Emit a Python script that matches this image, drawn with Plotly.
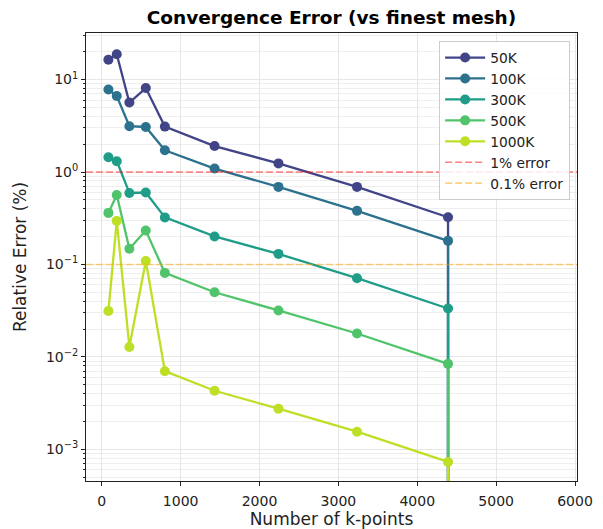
import plotly.graph_objects as go

# ---- data ----
kpoints = [84, 190, 350, 558, 800, 1430, 2240, 3236, 4390, 4390]
series_names = ["50K", "100K", "300K", "500K", "1000K"]
err_50K = [16.4, 18.8, 5.64, 8.1, 3.1, 1.91, 1.24, 0.69, 0.324, 0.0]
err_100K = [7.8, 6.65, 3.13, 3.07, 1.72, 1.09, 0.69, 0.38, 0.18, 0.0]
err_300K = [1.445, 1.31, 0.594, 0.60, 0.323, 0.201, 0.13, 0.071, 0.0334, 0.0]
err_500K = [0.361, 0.565, 0.148, 0.233, 0.081, 0.050, 0.0318, 0.0179, 0.0084, 0.0]
err_1000K = [0.0313, 0.296, 0.0128, 0.109, 0.0070, 0.0043, 0.00275, 0.00155, 0.00073, 0.0]
colors = ["#414487", "#2c718e", "#1f9d89", "#50c46a", "#bddf26"]
thresholds = [1.0, 0.1]
threshold_names = ["1% error", "0.1% error"]
threshold_colors = ["rgba(255,0,0,0.5)", "rgba(255,165,0,0.5)"]
ytick_vals = [1e-3, 1e-2, 1e-1, 1e0, 1e1]
ytick_text = ["10<sup>\u22123</sup>", "10<sup>\u22122</sup>", "10<sup>\u22121</sup>",
              "10<sup>0</sup>", "10<sup>1</sup>"]
xtick_vals = [0, 1000, 2000, 3000, 4000, 5000, 6000]

FONT = "DejaVu Sans"
all_err = [err_50K, err_100K, err_300K, err_500K, err_1000K]

fig = go.Figure()
for name, errs, col in zip(series_names, all_err, colors):
    # exact zero (finest mesh) is shown as a drop to the bottom of the log axis
    ys = [e if e > 0 else 1e-12 for e in errs]
    fig.add_trace(go.Scatter(
        x=kpoints[:len(ys)], y=ys, mode="lines+markers", name=name,
        line=dict(color=col, width=2.3),
        marker=dict(color=col, size=10, symbol="circle"),
        cliponaxis=True,
    ))

for val, nm, col in zip(thresholds, threshold_names, threshold_colors):
    fig.add_hline(y=val, line=dict(color=col, width=1.6, dash="7px,3px"), layer="above")
    fig.add_trace(go.Scatter(
        x=[None], y=[None], mode="lines", name=nm,
        line=dict(color=col, width=1.6, dash="7px,3px"),
    ))

W, H = 595, 521
grid_col = "#e6e6e6"
fig.update_layout(
    width=W, height=H,
    margin=dict(l=78, r=26, t=25, b=48),
    paper_bgcolor="white", plot_bgcolor="white",
    font=dict(family=FONT, size=14, color="#222"),
    title=dict(text="<b>Convergence Error (vs finest mesh)</b>",
               x=(78 + 569) / 2 / W, xanchor="center", y=1 - 9.5 / H, yanchor="middle",
               font=dict(family=FONT, size=18.5, color="black")),
    showlegend=True,
    legend=dict(x=0.986, y=0.982, xanchor="right", yanchor="top",
                bgcolor="rgba(255,255,255,0.85)", bordercolor="#cccccc", borderwidth=1,
                font=dict(family=FONT, size=13.8, color="#222"),
                itemwidth=40, tracegroupgap=0),
)
fig.update_xaxes(
    range=[-200, 6025], tickvals=xtick_vals, automargin=False,
    showline=True, linecolor="#222", linewidth=1, mirror=True,
    ticks="outside", ticklen=4, tickcolor="#222", ticklabelstandoff=3,
    tickfont=dict(family=FONT, size=14, color="#222"),
    showgrid=True, gridcolor=grid_col, gridwidth=1, zeroline=False,
    title=dict(text="Number of k-points", font=dict(family=FONT, size=17, color="#222"), standoff=6),
)
fig.update_yaxes(
    type="log", range=[-3.343, 1.504], automargin=False,
    tickvals=ytick_vals, ticktext=ytick_text,
    tickfont=dict(family=FONT, size=14, color="#222"),
    showline=True, linecolor="#222", linewidth=1, mirror=True,
    ticks="outside", ticklen=4, tickcolor="#222",
    showgrid=True, gridcolor=grid_col, gridwidth=1, zeroline=False,
    minor=dict(ticks="outside", ticklen=2.5, tickcolor="#222", showgrid=True,
               gridcolor="#eeeeee", gridwidth=1, dtick="D1"),
    title=dict(text="Relative Error (%)", font=dict(family=FONT, size=17, color="#222"), standoff=14),
)

fig.write_html("out.html")
